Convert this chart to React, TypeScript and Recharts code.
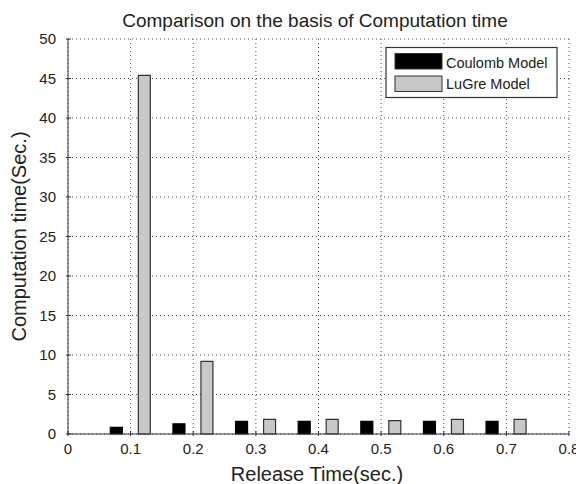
import { BarChart, Bar, XAxis, YAxis, CartesianGrid } from 'recharts';

const releaseTimes = [0.1, 0.2, 0.3, 0.4, 0.5, 0.6, 0.7];
const coulombTimes = [0.85, 1.3, 1.6, 1.6, 1.6, 1.6, 1.6];
const lugreTimes = [45.4, 9.2, 1.85, 1.85, 1.7, 1.85, 1.85];
const xTicks = [0, 0.1, 0.2, 0.3, 0.4, 0.5, 0.6, 0.7, 0.8];
const yTicks = [0, 5, 10, 15, 20, 25, 30, 35, 40, 45, 50];

const seriesInfo = [
    { key: 'coulomb', name: 'Coulomb Model', fill: '#000000', stroke: '#000000' },
    { key: 'lugre', name: 'LuGre Model', fill: '#c8c8c8', stroke: '#333333' },
];

const chartData = releaseTimes.map((t, i) => ({
    t,
    coulomb: coulombTimes[i],
    lugre: lugreTimes[i],
}));

const FONT = '"Liberation Sans", Arial, sans-serif';
const INK = '#222';
const AXIS = '#333';

const BottomTick = ({ x, y, payload }: any) => (
    <g>
        <line x1={x} x2={x} y1={y} y2={y - 5} stroke={AXIS} />
        <text x={x} y={y + 18} textAnchor="middle" fontSize={15} fill={INK} fontFamily={FONT}>
            {String(payload.value)}
        </text>
    </g>
);

const TopTick = ({ x, y }: any) => <line x1={x} x2={x} y1={y} y2={y + 5} stroke={AXIS} />;

const LeftTick = ({ x, y, payload }: any) => (
    <g>
        <line x1={x} x2={x + 5} y1={y} y2={y} stroke={AXIS} />
        <text x={x - 10} y={y + 5} textAnchor="end" fontSize={15} fill={INK} fontFamily={FONT}>
            {String(payload.value)}
        </text>
    </g>
);

const RightTick = ({ x, y }: any) => <line x1={x} x2={x - 5} y1={y} y2={y} stroke={AXIS} />;

const App = () => {
    return (
        <div style={{ width: 576, height: 476, background: '#fff' }}>
            <BarChart
                width={576}
                height={476}
                data={chartData}
                margin={{ top: 31, right: 15, bottom: 0, left: 0 }}
                barSize={12}
                barGap={16}
            >
                <CartesianGrid stroke="#555" strokeDasharray="1 3" />
                <XAxis
                    dataKey="t"
                    type="number"
                    domain={[0, 0.8]}
                    ticks={xTicks}
                    height={50}
                    tickSize={0}
                    tickLine={false}
                    stroke={AXIS}
                    tick={<BottomTick />}
                    interval={0}
                />
                <XAxis
                    xAxisId="top"
                    dataKey="t"
                    type="number"
                    orientation="top"
                    domain={[0, 0.8]}
                    ticks={xTicks}
                    height={0}
                    tickSize={0}
                    tickLine={false}
                    stroke={AXIS}
                    tick={<TopTick />}
                    interval={0}
                />
                <YAxis
                    domain={[0, 50]}
                    ticks={yTicks}
                    width={60}
                    tickSize={0}
                    tickLine={false}
                    stroke={AXIS}
                    tick={<LeftTick />}
                    interval={0}
                />
                <YAxis
                    yAxisId="right"
                    orientation="right"
                    domain={[0, 50]}
                    ticks={yTicks}
                    width={0}
                    tickSize={0}
                    tickLine={false}
                    stroke={AXIS}
                    tick={<RightTick />}
                    interval={0}
                />
                {seriesInfo.map(s => (
                    <Bar
                        key={s.key}
                        dataKey={s.key}
                        name={s.name}
                        fill={s.fill}
                        stroke={s.stroke}
                        strokeWidth={1.2}
                        isAnimationActive={false}
                    />
                ))}

                <text x={307} y={19} textAnchor="middle" fontSize={19} fill={INK} fontFamily={FONT}>
                    Comparison on the basis of Computation time
                </text>
                <text x={309} y={473} textAnchor="middle" fontSize={20} fill={INK} fontFamily={FONT}>
                    Release Time(sec.)
                </text>
                <text
                    x={18}
                    y={228.5}
                    textAnchor="middle"
                    fontSize={20}
                    fill={INK}
                    fontFamily={FONT}
                    transform="rotate(-90, 18, 228.5)"
                >
                    Computation time(Sec.)
                </text>

                {/* legend box, top right */}
                <g>
                    <rect x={378} y={39.5} width={171} height={50} fill="#fff" stroke={AXIS} strokeWidth={1.2} />
                    {seriesInfo.map((s, i) => (
                        <g key={s.key}>
                            <rect x={387} y={45.5 + i * 22.5} width={47} height={15.5} fill={s.fill} stroke={AXIS} />
                            <text x={438} y={59.5 + i * 21} fontSize={14.5} fill={INK} fontFamily={FONT}>
                                {s.name}
                            </text>
                        </g>
                    ))}
                </g>
            </BarChart>
        </div>
    );
};

export default App;
